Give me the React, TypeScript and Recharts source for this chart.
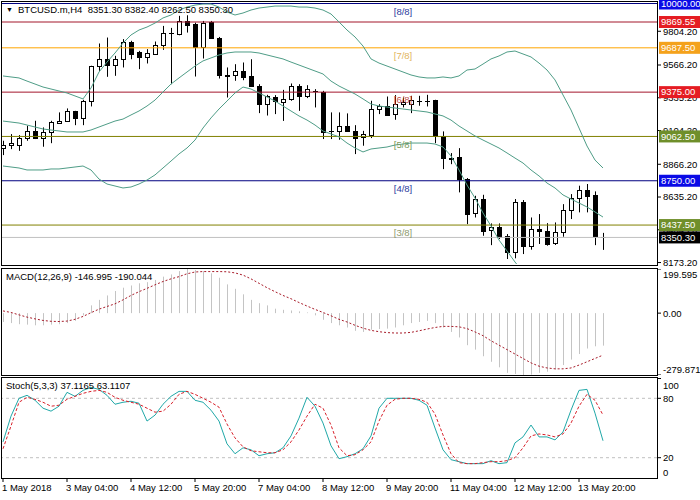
import { ComposedChart, Bar, Line, XAxis, YAxis, ReferenceLine, ReferenceDot } from 'recharts'

// ── Data (BTCUSD H4) ─────────────────────────────────────────────────────────

const opens = [
  8978, 9001, 9000, 9048, 9102, 9048, 9091, 9159, 9173, 9239,
  9196, 9309, 9556, 9612, 9565, 9607, 9730, 9659, 9626, 9647,
  9708, 9795, 9788, 9877, 9853, 9690, 9870, 9759, 9495, 9495,
  9525, 9490, 9420, 9290, 9344, 9307, 9330, 9420, 9349, 9384,
  9377, 9100, 9102, 9133, 9098, 9060, 9074, 9255, 9279, 9220,
  9288, 9293, 9312, 9314, 9316, 9067, 8907, 8914, 8762, 8520,
  8621, 8402, 8426, 8358, 8245, 8602, 8292, 8409, 8393, 8308,
  8386, 8543, 8630, 8687, 8649, 8351.3,
]
const highs = [
  9032, 9079, 9072, 9138, 9173, 9126, 9173, 9232, 9260, 9243,
  9321, 9561, 9718, 9760, 9631, 9749, 9737, 9666, 9678, 9732,
  9842, 9828, 9913, 9917, 9865, 9877, 9877, 9764, 9549, 9572,
  9584, 9607, 9431, 9356, 9354, 9391, 9436, 9431, 9424, 9396,
  9384, 9232, 9232, 9225, 9142, 9102, 9314, 9290, 9344, 9354,
  9337, 9349, 9349, 9356, 9321, 9098, 8945, 8980, 8769, 8644,
  8651, 8449, 8449, 8374, 8621, 8614, 8491, 8515, 8451, 8456,
  8585, 8656, 8715, 8727, 8675, 8382.4,
]
const lows = [
  8931, 8973, 8961, 9032, 9044, 8990, 9015, 9155, 9170, 9142,
  9142, 9274, 9525, 9483, 9490, 9549, 9607, 9537, 9577, 9643,
  9673, 9431, 9776, 9795, 9485, 9612, 9759, 9471, 9337, 9455,
  9459, 9415, 9227, 9210, 9220, 9172, 9314, 9243, 9333, 9267,
  9044, 9044, 9039, 9096, 8938, 8997, 9051, 9220, 9208, 9180,
  9267, 9227, 9279, 9274, 9015, 8832, 8867, 8668, 8444, 8491,
  8362, 8296, 8339, 8198, 8203, 8233, 8264, 8304, 8292, 8297,
  8355, 8480, 8527, 8527, 8296, 8262.5,
]
const closes = [
  9001, 9015, 9048, 9102, 9048, 9091, 9161, 9173, 9239, 9196,
  9309, 9556, 9612, 9565, 9607, 9730, 9647, 9626, 9650, 9708,
  9795, 9790, 9877, 9850, 9690, 9866, 9759, 9495, 9492, 9525,
  9485, 9415, 9290, 9345, 9309, 9330, 9420, 9349, 9396, 9386,
  9091, 9103, 9133, 9098, 9055, 9079, 9255, 9279, 9213, 9290,
  9302, 9316, 9314, 9312, 9067, 8907, 8905, 8762, 8515, 8621,
  8398, 8426, 8355, 8245, 8597, 8292, 8409, 8393, 8304, 8386,
  8543, 8630, 8687, 8644, 8358, 8350.3,
]

// Bollinger bands
const bbUpper = [
  9489, 9482, 9475, 9453, 9432, 9411, 9397, 9383, 9369, 9348,
  9327, 9404, 9517, 9587, 9651, 9721, 9778, 9813, 9834, 9862,
  9898, 9919, 9954, 9975, 9989, 9996, 9996, 9975, 9940, 9919,
  9933, 9954, 9968, 9975, 9982, 9982, 9982, 9975, 9975, 9968,
  9954, 9926, 9870, 9813, 9764, 9700, 9609, 9580, 9559, 9538,
  9517, 9496, 9482, 9475, 9475, 9482, 9475, 9489, 9531, 9538,
  9573, 9609, 9630, 9658, 9665, 9644, 9623, 9580, 9531, 9461,
  9355, 9249, 9122, 8995, 8896, 8840,
]
const bbMiddle = [
  9171, 9164, 9157, 9143, 9129, 9115, 9108, 9101, 9094, 9094,
  9094, 9108, 9129, 9150, 9171, 9185, 9214, 9242, 9277, 9319,
  9376, 9432, 9475, 9517, 9559, 9595, 9616, 9637, 9651, 9658,
  9658, 9658, 9651, 9637, 9623, 9609, 9587, 9566, 9545, 9524,
  9503, 9453, 9418, 9390, 9362, 9327, 9291, 9277, 9270, 9263,
  9256, 9249, 9242, 9235, 9221, 9207, 9178, 9136, 9101, 9066,
  9037, 9009, 8981, 8946, 8910, 8875, 8826, 8784, 8734, 8699,
  8650, 8621, 8593, 8565, 8530, 8494,
]
const bbLower = [
  8854, 8847, 8840, 8826, 8826, 8826, 8833, 8833, 8840, 8847,
  8854, 8826, 8762, 8727, 8713, 8699, 8706, 8727, 8755, 8791,
  8840, 8889, 8939, 8981, 9037, 9122, 9193, 9256, 9312, 9369,
  9411, 9397, 9369, 9341, 9312, 9277, 9242, 9207, 9178, 9143,
  9101, 9080, 9059, 9016, 8981, 8953, 8974, 8981, 8988, 9002,
  9009, 9016, 9016, 9016, 9009, 8988, 8925, 8826, 8720, 8628,
  8523, 8431, 8332, 8255, 8177, 8107, 8050, 8015, 7980, 7966,
  7966, 7994, 8036, 8078, 8121, 8149,
]

// MACD(12,26,9)
const macdHist = [
  -40, -45, -50, -52, -55, -55, -52, -50, -45, -35,
  -10, 35, 60, 80, 100, 115, 125, 135, 140, 150,
  165, 175, 190, 199.595, 195, 190, 180, 160, 130, 110,
  85, 60, 45, 35, 20, 15, 12, 8, 3, -10,
  -30, -45, -55, -65, -80, -85, -75, -72, -70, -65,
  -55, -45, -40, -35, -45, -65, -85, -110, -145, -165,
  -195, -220, -245, -270, -275, -279.871, -278, -270, -265, -255,
  -235, -210, -185, -160, -150, -146.995,
]
const macdSignal = [
  10, 3, -8, -18, -26, -33, -37, -38, -36, -28,
  -15, 2, 18, 30, 42, 60, 80, 97, 112, 128,
  143, 155, 165, 178, 186, 188, 188, 188, 187, 182,
  172, 155, 135, 115, 97, 80, 65, 48, 32, 17,
  3, -12, -28, -40, -55, -68, -78, -84, -88, -90,
  -90, -87, -80, -72, -65, -60, -60, -62, -70, -85,
  -102, -125, -145, -165, -185, -205, -225, -240, -248, -252,
  -252, -248, -235, -220, -205, -190.044,
]

// Stoch(5,3,3)
const stochK = [
  36, 62, 80, 83, 78, 70, 67, 72, 86, 82,
  88, 91, 89, 83, 74, 76, 77, 75, 57, 63,
  74, 82, 87, 87, 78, 76, 68, 57, 34, 24,
  30, 28, 22, 24, 25, 30, 42, 60, 81, 72,
  55, 32, 19, 21, 24, 29, 42, 70, 80, 80,
  80, 80, 78, 73, 50, 28, 18, 16, 14, 14,
  14, 17, 14, 15, 35, 41, 53, 41, 41, 38,
  46, 68, 88, 89, 65, 37.1165,
]
const stochD = [
  29, 52, 76, 81, 79, 76, 72, 73, 79, 82,
  85, 87, 88, 86, 81, 78, 76, 74, 70, 66,
  67, 74, 84, 87, 84, 80, 76, 71, 54, 40,
  31, 27, 26, 25, 25, 28, 36, 48, 62, 74,
  70, 53, 30, 22, 23, 28, 36, 57, 73, 79,
  80, 80, 79, 76, 64, 43, 24, 15, 14, 14,
  15, 16, 16, 17, 20, 30, 42, 44, 43, 41,
  44, 55, 72, 84, 78, 63.1107,
]

const xTickIdx = [0, 8, 16, 24, 32, 40, 48, 56, 64, 72]
const xTickLabels = [
  '1 May 2018', '3 May 04:00', '4 May 12:00', '5 May 20:00', '7 May 04:00',
  '8 May 12:00', '9 May 20:00', '11 May 04:00', '12 May 12:00', '13 May 20:00',
]
const priceTicks = [9804.2, 9566.2, 9335.2, 9104.2, 8866.2, 8635.2, 8404.2, 8173.2]
const macdTicks = [199.595, 0, -279.871]
const stochTicks = [100, 80, 20]
const stochFloorLabel = '0'
const stochLevels = [80, 20]

const levelValues = [10000, 9869.55, 9687.5, 9375, 9062.5, 8750, 8437.5, 8350.3]
const murreyNames = ['[8/8]', '[7/8]', '[6/8]', '[5/8]', '[4/8]', '[3/8]']
const murreyValues = [10000, 9687.5, 9375, 9062.5, 8750, 8437.5]
const murreyLabelBar = 50

// ── Styling ───────────────────────────────────────────────────────────────────

const FONT = '"Liberation Sans", "DejaVu Sans", sans-serif'
const FS = 9.5
const X_DOMAIN: [number, number] = [-0.125, 81.75]
const PRICE_DOMAIN: [number, number] = [8162.9, 10010.6]
const levelLine = ['#000080', '#a3162b', '#ffa500', '#a3162b', '#808000', '#000080', '#808000', '#c0c0c0']
const levelTag = ['#0a0ae6', '#e51c23', '#f4a21c', '#e51c23', '#6f8f2a', '#0a0ae6', '#6f8f2a', '#000000']
const murreyColor = ['#2d3c9e', '#e2b560', '#c0504d', '#7d9c5c', '#2d3c9e', '#8d9a6e']
const BAND = '#4f9d87'

const bars = opens.map((o, i) => ({
  i,
  open: o,
  high: highs[i],
  low: lows[i],
  close: closes[i],
  range: [lows[i], highs[i]],
  bbUp: bbUpper[i],
  bbMid: bbMiddle[i],
  bbLow: bbLower[i],
  hist: macdHist[i],
  signal: macdSignal[i],
  k: stochK[i],
  d: stochD[i],
}))

// ── Shapes ────────────────────────────────────────────────────────────────────

function Candle(props: any) {
  const { x, y, width, height, payload } = props
  const { open, close, high, low } = payload
  const top = Math.min(y, y + height)
  const h = Math.abs(height)
  const k = h / (high - low)
  const yOf = (v: number) => top + (high - v) * k
  const cx = Math.round(x + width / 2) + 0.5
  const bTop = Math.round(yOf(Math.max(open, close))) + 0.5
  const bBot = Math.round(yOf(Math.min(open, close))) + 0.5
  return (
    <g>
      <line x1={cx} x2={cx} y1={top} y2={top + h} stroke="#000" />
      {bBot - bTop < 1 ? (
        <line x1={cx - 2.5} x2={cx + 2.5} y1={bTop} y2={bTop} stroke="#000" />
      ) : (
        <rect x={cx - 2} y={bTop} width={4} height={bBot - bTop}
          fill={close >= open ? '#fff' : '#000'} stroke="#000" />
      )}
    </g>
  )
}

function HistBar(props: any) {
  const { x, y, width, height } = props
  const top = Math.min(y, y + height)
  return <rect x={Math.round(x + width / 2)} y={top} width={1} height={Math.abs(height)} fill="#c4c4c4" />
}

function AxisTick({ x, y, payload, fmt, nudge }: any) {
  const v = payload.value
  return (
    <text x={x} y={y + (nudge ? nudge(v) : 0)} dy="0.35em" fontSize={FS} fill="#000">
      {fmt(v)}
    </text>
  )
}

function TimeTick({ x, y, payload }: any) {
  const label = xTickLabels[xTickIdx.indexOf(payload.value)]
  return (
    <text x={x - 1} y={y} dy="0.75em" fontSize={FS} fill="#000">
      {label}
    </text>
  )
}

const priceTag = (text: string, bg: string) => (p: any) => {
  const { x, y, width } = p.viewBox
  return (
    <g>
      <rect x={x + width + 2} y={y - 6} width={42} height={12} fill={bg} />
      <text x={x + width + 4} y={y} dy="0.35em" fontSize={FS} fill="#fff">{text}</text>
    </g>
  )
}

const murreyText = (text: string, color: string) => (p: any) => {
  const { x, y } = p.viewBox
  return (
    <text x={x} y={y + 8} dy="0.35em" textAnchor="middle" fontSize={FS} fill={color}>{text}</text>
  )
}

const frame = (top: number, height: number) => ({
  position: 'absolute' as const, left: 1, top, width: 657, height,
  border: '1px solid #000', boxSizing: 'border-box' as const, pointerEvents: 'none' as const,
})

const at = (top: number) => ({ position: 'absolute' as const, left: 0, top })

const note = (left: number, top: number) => ({
  position: 'absolute' as const, left, top, fontSize: FS, lineHeight: '12px', whiteSpace: 'nowrap' as const, color: '#000',
})

// ── Chart ─────────────────────────────────────────────────────────────────────

export default function App() {
  return (
    <div style={{ position: 'absolute', left: 0, top: 0, width: 700, height: 500, background: '#fff', fontFamily: FONT, overflow: 'hidden' }}>
      {/* price panel */}
      <div style={at(0)}>
        <ComposedChart width={700} height={266} data={bars} margin={{ top: 2, right: 0, bottom: 2, left: 2 }}>
          <XAxis type="number" dataKey="i" domain={X_DOMAIN} allowDataOverflow hide />
          <YAxis
            orientation="right"
            width={43}
            domain={PRICE_DOMAIN}
            allowDataOverflow
            ticks={priceTicks}
            interval={0}
            tickSize={4}
            axisLine={false}
            tickLine={{ stroke: '#000' }}
            tick={<AxisTick fmt={(v: number) => v.toFixed(2)} />}
          />
          {levelValues.map((v, n) => (
            <ReferenceLine key={'l' + v} y={v} stroke={levelLine[n]} strokeWidth={1} />
          ))}
          <Bar dataKey="range" barSize={5} shape={<Candle />} isAnimationActive={false} />
          <Line dataKey="bbUp" stroke={BAND} strokeWidth={1} dot={false} isAnimationActive={false} />
          <Line dataKey="bbMid" stroke={BAND} strokeWidth={1} dot={false} isAnimationActive={false} />
          <Line dataKey="bbLow" stroke={BAND} strokeWidth={1} dot={false} isAnimationActive={false} />
          {murreyValues.map((v, n) => (
            <ReferenceDot key={'m' + v} x={murreyLabelBar} y={v} r={0} fill="none" stroke="none"
              label={murreyText(murreyNames[n], murreyColor[n])} />
          ))}
        </ComposedChart>
      </div>

      {/* price tags, laid over the axis labels */}
      <div style={at(0)}>
        <ComposedChart width={700} height={266} data={bars} margin={{ top: 2, right: 43, bottom: 2, left: 2 }}>
          <XAxis type="number" dataKey="i" domain={X_DOMAIN} allowDataOverflow hide />
          <YAxis domain={PRICE_DOMAIN} allowDataOverflow hide />
          {levelValues.map((v, n) => (
            <ReferenceLine key={'t' + v} y={v} stroke="none"
              label={priceTag(v.toFixed(2), levelTag[n])} />
          ))}
        </ComposedChart>
      </div>

      {/* MACD panel */}
      <div style={at(269)}>
        <ComposedChart width={700} height={106} data={bars} margin={{ top: 0, right: 0, bottom: 0, left: 2 }}>
          <XAxis type="number" dataKey="i" domain={X_DOMAIN} allowDataOverflow hide />
          <YAxis
            orientation="right"
            width={43}
            domain={[-279.871, 199.595]}
            allowDataOverflow
            ticks={macdTicks}
            interval={0}
            tickSize={4}
            axisLine={false}
            tickLine={{ stroke: '#000' }}
            tick={
              <AxisTick
                fmt={(v: number) => (v === 0 ? '0.00' : v.toFixed(3))}
                nudge={(v: number) => (v > 0 ? 6 : v < 0 ? -5 : 1)}
              />
            }
          />
          <Bar dataKey="hist" barSize={1} shape={<HistBar />} isAnimationActive={false} />
          <Line dataKey="signal" stroke="#a81c2a" strokeWidth={1} strokeDasharray="2 2" dot={false} isAnimationActive={false} />
        </ComposedChart>
      </div>

      {/* Stochastic panel */}
      <div style={at(378)}>
        <ComposedChart width={700} height={122} data={bars} margin={{ top: 0, right: 0, bottom: 0, left: 2 }}>
          <XAxis
            type="number"
            dataKey="i"
            domain={X_DOMAIN}
            allowDataOverflow
            ticks={xTickIdx}
            interval={0}
            height={22}
            tickSize={4}
            axisLine={false}
            tickLine={{ stroke: '#000' }}
            tick={<TimeTick />}
          />
          <YAxis
            orientation="right"
            width={43}
            domain={[-0.5, 100.5]}
            allowDataOverflow
            ticks={stochTicks}
            interval={0}
            tickSize={4}
            axisLine={false}
            tickLine={{ stroke: '#000' }}
            tick={
              <AxisTick
                fmt={(v: number) => String(v)}
                nudge={(v: number) => (v === 100 ? 7 : 0)}
              />
            }
          />
          {stochLevels.map((v) => (
            <ReferenceLine key={v} y={v} stroke="#c0c0c0" strokeDasharray="3 3" />
          ))}
          <Line dataKey="k" stroke="#20a8a8" strokeWidth={1} dot={false} isAnimationActive={false} />
          <Line dataKey="d" stroke="#d8202a" strokeWidth={1} strokeDasharray="3 2" dot={false} isAnimationActive={false} />
        </ComposedChart>
      </div>

      <div style={frame(1, 265)} />
      <div style={frame(268, 108)} />
      <div style={frame(377, 102)} />

      <div style={{ position: 'absolute', left: 6, top: 5, fontSize: 7, lineHeight: '10px' }}>▼</div>
      <div style={note(18, 4)}>BTCUSD.m,H4&nbsp; 8351.30 8382.40 8262.50 8350.30</div>
      <div style={note(6, 271)}>MACD(12,26,9) -146.995 -190.044</div>
      <div style={note(6, 380)}>Stoch(5,3,3) 37.1165 63.1107</div>
      <div style={note(663, 467)}>{stochFloorLabel}</div>
    </div>
  )
}
